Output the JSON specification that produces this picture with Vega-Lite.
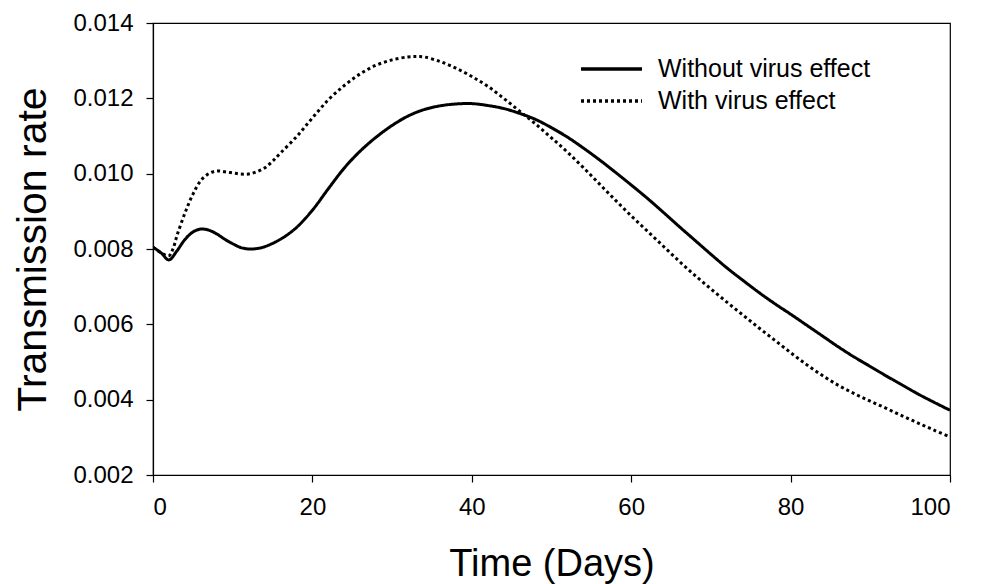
{
  "$schema": "https://vega.github.io/schema/vega-lite/v6.json",
  "width": 797,
  "height": 452,
  "autosize": "none",
  "padding": {"left": 153, "top": 23, "right": 37, "bottom": 109},
  "background": "white",
  "config": {
    "view": {"stroke": "black", "strokeWidth": 1.2},
    "font": "Liberation Sans",
    "axis": {"grid": false, "domainColor": "black", "tickColor": "black", "labelColor": "black", "titleColor": "black", "labelFont": "Liberation Sans", "titleFont": "Liberation Sans", "titleFontWeight": "normal", "domainWidth": 1.2, "tickWidth": 1.2}
  },
  "datasets": {
    "curves": [
      {"day": 0, "rate": 0.00805, "series": "Without virus effect"},
      {"day": 1, "rate": 0.0079, "series": "Without virus effect"},
      {"day": 2, "rate": 0.00771, "series": "Without virus effect"},
      {"day": 3, "rate": 0.00795, "series": "Without virus effect"},
      {"day": 4, "rate": 0.00825, "series": "Without virus effect"},
      {"day": 5, "rate": 0.00845, "series": "Without virus effect"},
      {"day": 6, "rate": 0.00853, "series": "Without virus effect"},
      {"day": 7, "rate": 0.0085, "series": "Without virus effect"},
      {"day": 8, "rate": 0.0084, "series": "Without virus effect"},
      {"day": 9, "rate": 0.00826, "series": "Without virus effect"},
      {"day": 10, "rate": 0.00814, "series": "Without virus effect"},
      {"day": 11, "rate": 0.00804, "series": "Without virus effect"},
      {"day": 12, "rate": 0.008, "series": "Without virus effect"},
      {"day": 13, "rate": 0.00801, "series": "Without virus effect"},
      {"day": 14, "rate": 0.00806, "series": "Without virus effect"},
      {"day": 16, "rate": 0.00826, "series": "Without virus effect"},
      {"day": 18, "rate": 0.00857, "series": "Without virus effect"},
      {"day": 20, "rate": 0.00903, "series": "Without virus effect"},
      {"day": 22, "rate": 0.0096, "series": "Without virus effect"},
      {"day": 24, "rate": 0.01015, "series": "Without virus effect"},
      {"day": 26, "rate": 0.0106, "series": "Without virus effect"},
      {"day": 28, "rate": 0.01097, "series": "Without virus effect"},
      {"day": 30, "rate": 0.01128, "series": "Without virus effect"},
      {"day": 32, "rate": 0.01153, "series": "Without virus effect"},
      {"day": 34, "rate": 0.0117, "series": "Without virus effect"},
      {"day": 36, "rate": 0.0118, "series": "Without virus effect"},
      {"day": 38, "rate": 0.01185, "series": "Without virus effect"},
      {"day": 40, "rate": 0.01186, "series": "Without virus effect"},
      {"day": 42, "rate": 0.01181, "series": "Without virus effect"},
      {"day": 44, "rate": 0.01173, "series": "Without virus effect"},
      {"day": 46, "rate": 0.0116, "series": "Without virus effect"},
      {"day": 48, "rate": 0.01144, "series": "Without virus effect"},
      {"day": 50, "rate": 0.01122, "series": "Without virus effect"},
      {"day": 52, "rate": 0.01097, "series": "Without virus effect"},
      {"day": 54, "rate": 0.01068, "series": "Without virus effect"},
      {"day": 56, "rate": 0.01037, "series": "Without virus effect"},
      {"day": 58, "rate": 0.01004, "series": "Without virus effect"},
      {"day": 60, "rate": 0.0097, "series": "Without virus effect"},
      {"day": 62, "rate": 0.00935, "series": "Without virus effect"},
      {"day": 64, "rate": 0.00898, "series": "Without virus effect"},
      {"day": 66, "rate": 0.0086, "series": "Without virus effect"},
      {"day": 68, "rate": 0.00823, "series": "Without virus effect"},
      {"day": 70, "rate": 0.00786, "series": "Without virus effect"},
      {"day": 72, "rate": 0.0075, "series": "Without virus effect"},
      {"day": 74, "rate": 0.00717, "series": "Without virus effect"},
      {"day": 76, "rate": 0.00685, "series": "Without virus effect"},
      {"day": 78, "rate": 0.00655, "series": "Without virus effect"},
      {"day": 80, "rate": 0.00627, "series": "Without virus effect"},
      {"day": 82, "rate": 0.00598, "series": "Without virus effect"},
      {"day": 84, "rate": 0.00569, "series": "Without virus effect"},
      {"day": 86, "rate": 0.0054, "series": "Without virus effect"},
      {"day": 88, "rate": 0.00513, "series": "Without virus effect"},
      {"day": 90, "rate": 0.00488, "series": "Without virus effect"},
      {"day": 92, "rate": 0.00463, "series": "Without virus effect"},
      {"day": 94, "rate": 0.00439, "series": "Without virus effect"},
      {"day": 96, "rate": 0.00415, "series": "Without virus effect"},
      {"day": 98, "rate": 0.00393, "series": "Without virus effect"},
      {"day": 100, "rate": 0.00372, "series": "Without virus effect"},
      {"day": 0, "rate": 0.00805, "series": "With virus effect"},
      {"day": 1, "rate": 0.0079, "series": "With virus effect"},
      {"day": 2, "rate": 0.00782, "series": "With virus effect"},
      {"day": 2.5, "rate": 0.008, "series": "With virus effect"},
      {"day": 3, "rate": 0.00835, "series": "With virus effect"},
      {"day": 4, "rate": 0.00895, "series": "With virus effect"},
      {"day": 5, "rate": 0.00945, "series": "With virus effect"},
      {"day": 6, "rate": 0.00982, "series": "With virus effect"},
      {"day": 7, "rate": 0.01, "series": "With virus effect"},
      {"day": 8, "rate": 0.01007, "series": "With virus effect"},
      {"day": 9, "rate": 0.01005, "series": "With virus effect"},
      {"day": 10, "rate": 0.01002, "series": "With virus effect"},
      {"day": 11, "rate": 0.00999, "series": "With virus effect"},
      {"day": 12, "rate": 0.00999, "series": "With virus effect"},
      {"day": 13, "rate": 0.01005, "series": "With virus effect"},
      {"day": 14, "rate": 0.01015, "series": "With virus effect"},
      {"day": 15, "rate": 0.01033, "series": "With virus effect"},
      {"day": 16, "rate": 0.01055, "series": "With virus effect"},
      {"day": 18, "rate": 0.01098, "series": "With virus effect"},
      {"day": 20, "rate": 0.01148, "series": "With virus effect"},
      {"day": 22, "rate": 0.01196, "series": "With virus effect"},
      {"day": 24, "rate": 0.01234, "series": "With virus effect"},
      {"day": 26, "rate": 0.01265, "series": "With virus effect"},
      {"day": 28, "rate": 0.01288, "series": "With virus effect"},
      {"day": 30, "rate": 0.01302, "series": "With virus effect"},
      {"day": 32, "rate": 0.0131, "series": "With virus effect"},
      {"day": 33, "rate": 0.01311, "series": "With virus effect"},
      {"day": 34, "rate": 0.0131, "series": "With virus effect"},
      {"day": 36, "rate": 0.01298, "series": "With virus effect"},
      {"day": 38, "rate": 0.0128, "series": "With virus effect"},
      {"day": 40, "rate": 0.01258, "series": "With virus effect"},
      {"day": 42, "rate": 0.01232, "series": "With virus effect"},
      {"day": 44, "rate": 0.012, "series": "With virus effect"},
      {"day": 46, "rate": 0.01166, "series": "With virus effect"},
      {"day": 48, "rate": 0.01132, "series": "With virus effect"},
      {"day": 50, "rate": 0.01095, "series": "With virus effect"},
      {"day": 52, "rate": 0.01057, "series": "With virus effect"},
      {"day": 54, "rate": 0.01016, "series": "With virus effect"},
      {"day": 56, "rate": 0.00973, "series": "With virus effect"},
      {"day": 58, "rate": 0.0093, "series": "With virus effect"},
      {"day": 60, "rate": 0.00888, "series": "With virus effect"},
      {"day": 62, "rate": 0.00848, "series": "With virus effect"},
      {"day": 64, "rate": 0.00808, "series": "With virus effect"},
      {"day": 66, "rate": 0.00768, "series": "With virus effect"},
      {"day": 68, "rate": 0.0073, "series": "With virus effect"},
      {"day": 70, "rate": 0.00694, "series": "With virus effect"},
      {"day": 72, "rate": 0.00659, "series": "With virus effect"},
      {"day": 74, "rate": 0.00625, "series": "With virus effect"},
      {"day": 76, "rate": 0.00591, "series": "With virus effect"},
      {"day": 78, "rate": 0.00558, "series": "With virus effect"},
      {"day": 80, "rate": 0.00525, "series": "With virus effect"},
      {"day": 82, "rate": 0.00493, "series": "With virus effect"},
      {"day": 84, "rate": 0.00464, "series": "With virus effect"},
      {"day": 86, "rate": 0.00438, "series": "With virus effect"},
      {"day": 88, "rate": 0.00416, "series": "With virus effect"},
      {"day": 90, "rate": 0.00396, "series": "With virus effect"},
      {"day": 92, "rate": 0.00377, "series": "With virus effect"},
      {"day": 94, "rate": 0.00357, "series": "With virus effect"},
      {"day": 96, "rate": 0.00338, "series": "With virus effect"},
      {"day": 98, "rate": 0.00319, "series": "With virus effect"},
      {"day": 100, "rate": 0.00301, "series": "With virus effect"}
    ]
  },
  "data": {"name": "curves"},
  "mark": {"type": "line", "color": "black", "strokeWidth": 3, "interpolate": "catmull-rom", "clip": true},
  "encoding": {
    "x": {
      "field": "day", "type": "quantitative",
      "scale": {"domain": [0, 100], "nice": false, "zero": false},
      "axis": {"title": "Time (Days)", "values": [0, 20, 40, 60, 80, 100], "labelFontSize": 24, "tickSize": 7, "labelPadding": 13, "titleFontSize": 38, "titleBaseline": "alphabetic", "titleY": 100}
    },
    "y": {
      "field": "rate", "type": "quantitative",
      "scale": {"domain": [0.002, 0.014], "nice": false, "zero": false},
      "axis": {"title": "Transmission rate", "values": [0.002, 0.004, 0.006, 0.008, 0.01, 0.012, 0.014], "format": ".3f", "labelFontSize": 24, "tickSize": 7, "labelPadding": 13, "titleFontSize": 41, "titleBaseline": "alphabetic", "titleX": -108, "titleY": 226, "titleAngle": -90, "titleAlign": "center"}
    },
    "strokeDash": {
      "field": "series", "type": "nominal",
      "scale": {"domain": ["Without virus effect", "With virus effect"], "range": [[1, 0], [3, 3]]},
      "legend": {
        "title": null, "orient": "none", "legendX": 426, "legendY": 30,
        "symbolType": "stroke", "symbolSize": 3721, "symbolStrokeWidth": 3.5, "symbolStrokeColor": "black",
        "labelFontSize": 25, "labelFont": "Liberation Sans", "labelColor": "black", "labelOffset": 14, "labelLimit": 500, "rowPadding": 0, "clipHeight": 32, "padding": 0
      }
    }
  }
}
